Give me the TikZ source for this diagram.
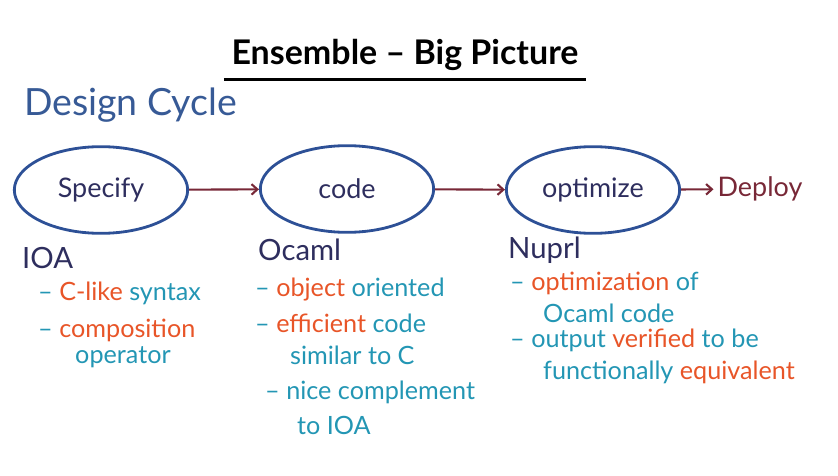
\documentclass[tikz,border=0pt]{standalone}
\usepackage{fontspec}
\setmainfont{Lato}
\usepackage{tikz}
\usetikzlibrary{shapes.geometric, positioning, arrows.meta}

\definecolor{navy}{RGB}{46,46,94}
\definecolor{ringblue}{RGB}{45,80,150}
\definecolor{headblue}{RGB}{55,90,150}
\definecolor{arrowred}{RGB}{120,40,55}
\definecolor{hiorange}{RGB}{232,85,40}
\definecolor{noteteal}{RGB}{35,150,180}

\tikzset{
  stage/.style={ellipse, draw=ringblue, line width=2.4pt, minimum width=5.2cm,
                minimum height=2.6cm, text=navy, font=\fontsize{23}{27}\selectfont},
  lang/.style={anchor=west, inner sep=0pt, text=navy, font=\fontsize{25}{29}\selectfont},
  note/.style={anchor=west, inner sep=0pt, text=noteteal, font=\fontsize{21.5}{25}\selectfont},
  flow/.style={-{Straight Barb[length=5pt,width=9pt]}, draw=arrowred, line width=1.8pt}
}
\newcommand{\hi}[1]{\textcolor{hiorange}{#1}}

\begin{document}
\begin{tikzpicture}[x=0.03cm, y=-0.03cm]
   \useasboundingbox (0,0) rectangle (838,476);
   \node[font=\fontsize{29}{33}\selectfont\bfseries] (title) at (405,55) {Ensemble -- Big Picture};
   \draw[line width=2pt] ([xshift=-3pt,yshift=-4pt]title.south west) -- ([xshift=3pt,yshift=-4pt]title.south east);
   \node[anchor=west, text=headblue, font=\fontsize{32}{36}\selectfont] (cycle) at (20,105) {Design Cycle};

   \node[stage] (spec) at (101,190) {Specify};
   \node[stage] (code) at (347,189) {code};
   \node[stage] (opt)  at (593,190) {optimize};
   \node[text=arrowred, font=\fontsize{23}{27}\selectfont] (deploy) at (760,189) {Deploy};
    \path[flow]
    (spec) edge (code)
    (code) edge (opt)
    (opt)  edge (deploy);

   \node[lang] (ioa)   at (22,258)  {IOA};
   \node[note] (ioa1)  at (38,293)  {-- \hi{C-like} syntax};
   \node[note] (ioa2)  at (38,330)  {-- \hi{composition}};
   \node[note] (ioa3)  at (75,357)  {operator};

   \node[lang] (ocaml) at (258,250) {Ocaml};
   \node[note] (oc1)   at (255,290) {-- \hi{object} oriented};
   \node[note] (oc2)   at (255,323) {-- \hi{efficient} code};
   \node[note] (oc3)   at (290,355) {similar to C};
   \node[note] (oc4)   at (265,392) {-- nice complement};
   \node[note] (oc5)   at (297,425) {to IOA};

   \node[lang] (nuprl) at (508,250) {Nuprl};
   \node[note] (nu1)   at (510,283) {-- \hi{optimization} of};
   \node[note] (nu2)   at (543,313) {Ocaml code};
   \node[note] (nu3)   at (510,340) {-- output \hi{verified} to be};
   \node[note] (nu4)   at (543,372) {functionally \hi{equivalent}};
\end{tikzpicture}
\end{document}
